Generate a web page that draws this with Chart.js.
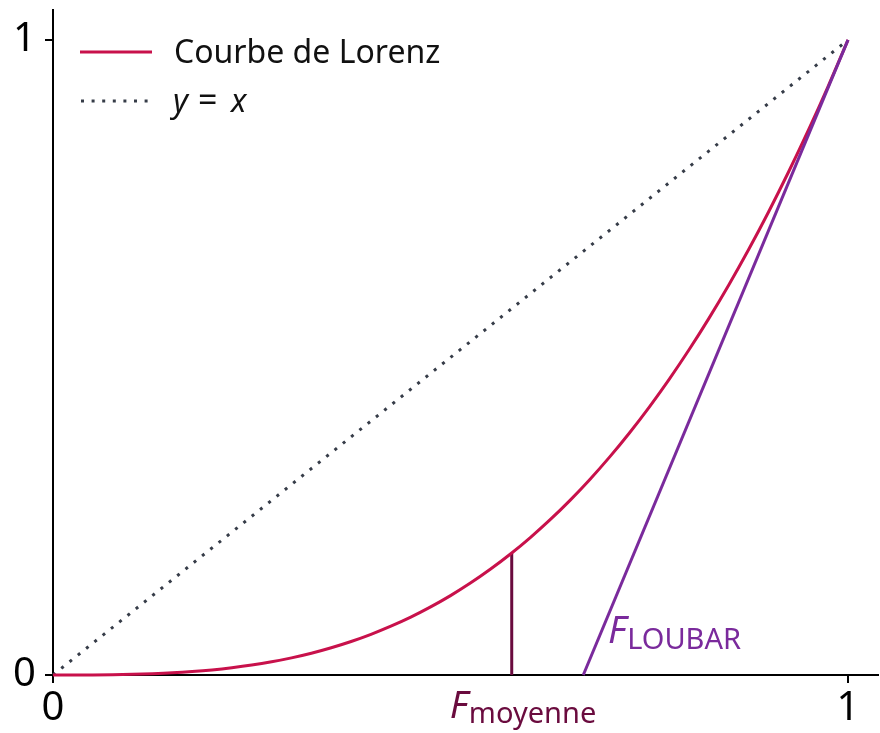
<!DOCTYPE html>
<html>
<head>
<meta charset="utf-8">
<script src="https://cdn.jsdelivr.net/npm/chart.js@4"></script>
<style>
html,body{margin:0;padding:0;background:#fff;}
#wrap{width:880px;height:733px;}
</style>
</head>
<body>
<div id="wrap"><canvas id="c" width="880" height="733"></canvas></div>
<script>
// ---- data ----
const lorenzX = [0,0.025,0.05,0.075,0.1,0.125,0.15,0.175,0.2,0.225,0.25,0.275,0.3,0.325,0.35,0.375,0.4,0.425,0.45,0.475,0.5,0.525,0.55,0.575,0.6,0.625,0.65,0.675,0.7,0.725,0.75,0.775,0.8,0.825,0.85,0.875,0.9,0.925,0.95,0.975,1];
const lorenzY = [0,0.0000,0.0001,0.0004,0.001,0.0020,0.0034,0.0054,0.008,0.0114,0.0156,0.0208,0.027,0.0343,0.0429,0.0527,0.064,0.0768,0.0911,0.1072,0.125,0.1447,0.1664,0.1901,0.216,0.2441,0.2746,0.3075,0.343,0.3811,0.4219,0.4655,0.512,0.5615,0.6141,0.6699,0.729,0.7915,0.8574,0.9269,1];
const diagX = [0, 1];
const diagY = [0, 1];
const loubarX = [0.667, 1];
const loubarY = [0, 1];
const moyenneX = [0.577, 0.577];
const moyenneY = [0, 0.192];
const xTicks = [0, 1];
const yTicks = [0, 1];
const legendLabels = ["Courbe de Lorenz", "y = x"];

const C_LORENZ = '#c8114b';
const C_DIAG = '#363c48';
const C_LOUBAR = '#7a2a9c';
const C_MOY = '#6a0b3e';
const FONT = '"Noto Sans", "Open Sans", sans-serif';

const pts = (xs, ys) => xs.map((x, i) => ({x: x, y: ys[i]}));

const annot = {
  id: 'annot',
  afterDraw(chart) {
    const ctx = chart.ctx;
    const xs = chart.scales.x;
    ctx.save();
    // legend
    ctx.lineWidth = 3;
    ctx.strokeStyle = C_LORENZ;
    ctx.setLineDash([]);
    ctx.beginPath(); ctx.moveTo(80, 52); ctx.lineTo(152, 52); ctx.stroke();
    ctx.strokeStyle = C_DIAG;
    ctx.setLineDash([3, 7.6]);
    ctx.beginPath(); ctx.moveTo(81, 101); ctx.lineTo(152, 101); ctx.stroke();
    ctx.setLineDash([]);
    ctx.fillStyle = '#111';
    ctx.textBaseline = 'alphabetic';
    ctx.textAlign = 'left';
    ctx.font = '32px ' + FONT;
    ctx.fillText(legendLabels[0], 174, 63);
    // y = x
    ctx.font = 'italic 32px ' + FONT;
    ctx.fillText('y', 173, 112);
    ctx.font = '34px ' + FONT;
    ctx.fillText('=', 198, 112);
    ctx.font = 'italic 32px ' + FONT;
    ctx.fillText('x', 231, 112);

    // F_LOUBAR label
    let lx = 608;
    ctx.fillStyle = C_LOUBAR;
    ctx.font = 'italic 38px ' + FONT;
    ctx.fillText('F', lx, 643);
    lx += ctx.measureText('F').width + 1;
    ctx.font = '29px ' + FONT;
    ctx.fillText('LOUBAR', lx, 649);

    // F_moyenne label
    let mx = xs.getPixelForValue(moyenneX[0]) - 62;
    ctx.fillStyle = C_MOY;
    ctx.font = 'italic 38px ' + FONT;
    ctx.fillText('F', mx, 718);
    mx += ctx.measureText('F').width + 1;
    ctx.font = '29px ' + FONT;
    ctx.fillText('moyenne', mx, 723);
    ctx.restore();
  }
};

const axisCommon = (isX) => ({
  type: 'linear',
  min: 0,
  max: isX ? 1.0377 : 1.047,
  afterBuildTicks: (s) => { s.ticks = (isX ? xTicks : yTicks).map(v => ({value: v})); },
  ticks: {
    color: '#000',
    font: {family: FONT, size: 40},
    padding: isX ? 2 : 9,
    autoSkip: false,
    maxRotation: 0,
    callback: (v) => String(v)
  },
  grid: {drawOnChartArea: false, drawTicks: true, tickLength: 8, color: '#000', lineWidth: 2},
  border: {display: true, color: '#000', width: 2},
  afterFit: (s) => {
    if (isX) { s.height = 58; s.paddingLeft = 0; s.paddingRight = 0; }
    else { s.width = 53; s.paddingTop = 0; s.paddingBottom = 0; }
  }
});

new Chart(document.getElementById('c'), {
  type: 'scatter',
  data: {
    datasets: [
      {label: 'Loubar', data: pts(loubarX, loubarY), showLine: true, borderColor: C_LOUBAR, borderWidth: 3, pointRadius: 0, clip: false},
      {label: legendLabels[0], data: pts(lorenzX, lorenzY), showLine: true, borderColor: C_LORENZ, borderWidth: 3, pointRadius: 0, cubicInterpolationMode: 'monotone', clip: false},
      {label: 'moyenne', data: pts(moyenneX, moyenneY), showLine: true, borderColor: C_MOY, borderWidth: 3, pointRadius: 0, clip: false},
      {label: legendLabels[1], data: pts(diagX, diagY), showLine: true, borderColor: C_DIAG, borderWidth: 3, borderDash: [3, 7.6], pointRadius: 0, clip: false}
    ]
  },
  options: {
    responsive: false,
    animation: false,
    devicePixelRatio: 1,
    layout: {padding: {top: 10, right: 2, left: 0, bottom: 0}},
    plugins: {legend: {display: false}, tooltip: {enabled: false}},
    scales: {x: axisCommon(true), y: axisCommon(false)}
  },
  plugins: [annot]
});
</script>
</body>
</html>
